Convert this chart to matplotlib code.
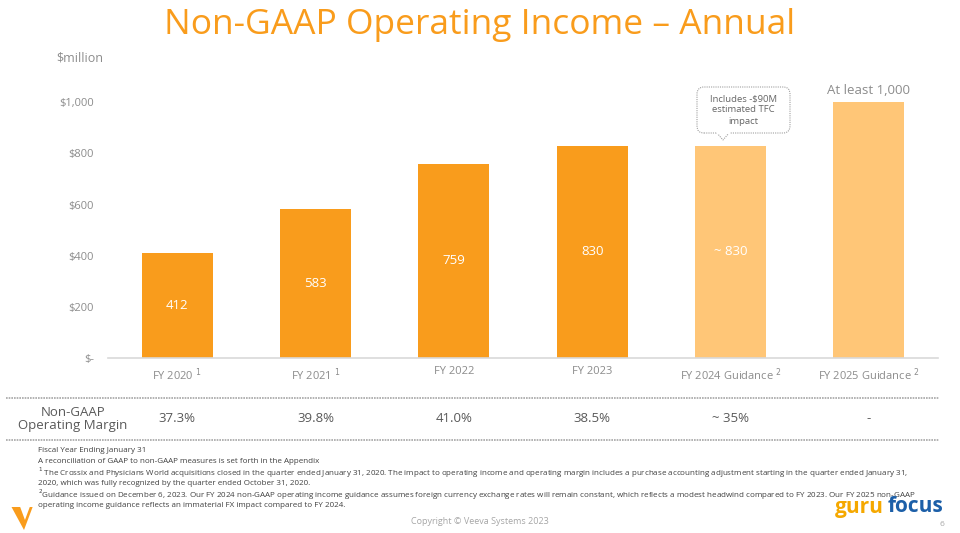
import matplotlib.pyplot as plt
from matplotlib.patches import FancyBboxPatch, Polygon

# data
categories = ['FY 2020', 'FY 2021', 'FY 2022', 'FY 2023', 'FY 2024 Guidance', 'FY 2025 Guidance']
sups = ['1', '1', '', '', '2', '2']
income = [412, 583, 759, 830, 830, 1000]
bar_labels = ['412', '583', '759', '830', '~ 830', '']
guidance = [False, False, False, False, True, True]
margins = ['37.3%', '39.8%', '41.0%', '38.5%', '~ 35%', '-']
yticks = [0, 200, 400, 600, 800, 1000]
ytick_labels = ['$-', '$200', '$400', '$600', '$800', '$1,000']

footnotes = [
    'Fiscal Year Ending January 31',
    'A reconciliation of GAAP to non-GAAP measures is set forth in the Appendix',
    '$^1$ The Crossix and Physicians World acquisitions closed in the quarter ended January 31, 2020. The impact to operating income and operating margin includes a purchase accounting adjustment starting in the quarter ended January 31,',
    '2020, which was fully recognized by the quarter ended October 31, 2020.',
    '$^2$Guidance issued on December 6, 2023. Our FY 2024 non-GAAP operating income guidance assumes foreign currency exchange rates will remain constant, which reflects a modest headwind compared to FY 2023. Our FY 2025 non-GAAP',
    'operating income guidance reflects an immaterial FX impact compared to FY 2024.',
]

orange = '#F99C1C'
light = '#FFC677'
grey = '#8C8C8C'

plt.rcParams['font.family'] = ['Open Sans', 'DejaVu Sans']

fig = plt.figure(figsize=(9.6, 5.33), dpi=100)
ax = fig.add_axes([0.1125, 0.3283, 0.8646, 0.528])

x = list(range(len(categories)))
colors = [light if g else orange for g in guidance]
ax.bar(x, income, width=0.515, color=colors)
for xi, v, lab in zip(x, income, bar_labels):
    if lab:
        ax.text(xi, v / 2, lab, ha='center', va='center', color='white', fontsize=9.5)
ax.text(x[-1], income[-1] + 22, 'At least 1,000', ha='center', va='bottom', color=grey, fontsize=9.5)

ax.set_xlim(-0.5, len(categories) - 0.5)
ax.set_ylim(0, 1100)
ax.set_yticks(yticks)
ax.set_yticklabels(ytick_labels)
ax.set_xticks(x)
ax.set_xticklabels([c + (r' $^{%s}$' % s if s else '') for c, s in zip(categories, sups)])
ax.tick_params(axis='both', length=0, labelsize=8, labelcolor=grey)
ax.tick_params(axis='y', pad=10)
ax.tick_params(axis='x', pad=6)
for s in ['top', 'right', 'left']:
    ax.spines[s].set_visible(False)
ax.spines['bottom'].set_color('#D9D9D9')
ax.spines['bottom'].set_linewidth(1.2)

# callout box above FY 2024 bar (inch coordinates)
tr = fig.dpi_scale_trans
box = FancyBboxPatch((6.97, 4.00), 0.93, 0.46, boxstyle='round,pad=0,rounding_size=0.07',
                     fc='white', ec='#A0A0A0', ls=(0, (1, 1)), lw=0.8, transform=tr)
fig.add_artist(box)
fig.add_artist(Polygon([(7.17, 4.00), (7.23, 3.93), (7.29, 4.00)], closed=False, fill=False,
                       ec='#A0A0A0', ls=(0, (1, 1)), lw=0.8, transform=tr))
fig.add_artist(plt.Line2D([7.175, 7.285], [4.0, 4.0], color='white', lw=1.5, transform=tr))
fig.text(7.435, 4.23, 'Includes -$90M\nestimated TFC\nimpact', ha='center', va='center',
         fontsize=6.8, color='#666666', linespacing=1.3, transform=tr)

# title
fig.text(0.5, 0.953, 'Non-GAAP Operating Income \u2013 Annual', ha='center', va='center',
         color=orange, fontsize=25.5)
fig.text(0.083, 0.891, '$million', ha='center', va='center', color=grey, fontsize=9)

# margin row
line_y = [1 - 398 / 533, 1 - 440 / 533]
for ly in line_y:
    fig.add_artist(plt.Line2D([0.006, 0.978], [ly, ly], color='#A6A6A6', lw=1.2, ls=(0, (1, 0.6))))
fig.text(0.076, 1 - 419 / 533, 'Non-GAAP\nOperating Margin', ha='center', va='center',
         color='#595959', fontsize=9.5, linespacing=1.1)
for xi, m in zip(x, margins):
    fx = 0.1125 + 0.8646 * (xi + 0.5) / len(categories)
    fig.text(fx, 1 - 419 / 533, m, ha='center', va='center', color='#595959', fontsize=9.5)

# footnotes
fy = 1 - 451 / 533
for i, f in enumerate(footnotes):
    fig.text(0.040, fy - i * 0.0206, f, ha='left', va='center', color='#404040', fontsize=5.8)

fig.text(0.5, 1 - 521 / 533, 'Copyright \u00a9 Veeva Systems 2023', ha='center', va='center',
         color='#A6A6A6', fontsize=6.5)
fig.text(0.981, 1 - 524 / 533, '6', ha='center', va='center', color='#A6A6A6', fontsize=6)

# logos
fig.add_artist(Polygon([(0.012, 1 - 507 / 533), (0.021, 1 - 507 / 533), (0.026, 1 - 520 / 533),
                        (0.031, 1 - 507 / 533), (0.034, 1 - 507 / 533), (0.025, 1 - 530 / 533)],
                       closed=True, fc=orange, ec='none'))
fig.text(0.870, 1 - 507 / 533, 'guru', ha='left', va='center', color='#F5A800', fontsize=15,
         fontweight='bold')
fig.text(0.925, 1 - 507 / 533, 'focus', ha='left', va='center', color='#1C5FA8', fontsize=15,
         fontweight='bold')

fig.savefig('out.png', dpi=100)
